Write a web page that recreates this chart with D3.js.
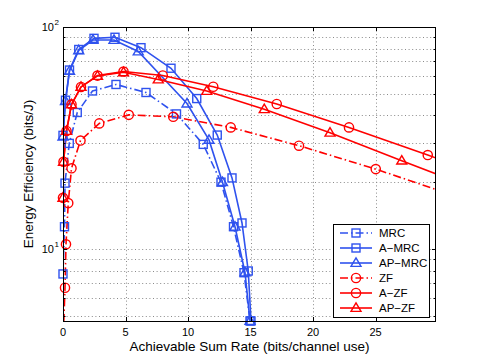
<!DOCTYPE html>
<html><head><meta charset="utf-8">
<script src="https://cdn.jsdelivr.net/npm/d3@7"></script>
<style>
html,body{margin:0;padding:0;background:#fff;}
svg{display:block;font-family:"Liberation Sans",Arial,Helvetica,sans-serif;}
</style></head>
<body>
<svg id="chart" width="482" height="362"></svg>
<script>
// ---- data ----
const mrcX   = [0.0, 0.12, 0.16, 0.5, 1.14, 2.36, 4.24, 6.64, 9.08, 11.22, 12.64, 13.64, 14.48, 14.96];
const mrcY   = [7.72, 12.6, 19.8, 29.9, 41.2, 51.5, 55.1, 50.7, 40.6, 29.6, 20.0, 12.6, 7.82, 4.74];
const aMrcX  = [0.0, 0.2, 0.52, 1.26, 2.48, 4.16, 6.24, 8.64, 10.7, 12.34, 13.52, 14.32, 14.82, 15.04];
const aMrcY  = [32.5, 46.8, 64.0, 79.2, 88.9, 89.9, 80.7, 65.2, 47.6, 32.6, 20.9, 13.1, 7.96, 4.74];
const apMrcX = [0.0, 0.2, 0.52, 1.26, 2.4, 4.08, 6.02, 9.92, 11.68, 12.76, 13.76, 14.56, 14.96];
const apMrcY = [32.1, 46.4, 63.4, 78.5, 87.4, 87.4, 77.6, 45.2, 31.0, 20.0, 12.6, 7.84, 4.74];
const zfX    = [0.02, 0.16, 0.24, 0.42, 0.68, 1.4, 2.9, 5.26, 8.82, 13.42, 18.88, 25.02, 31.8];
const zfY    = [4.0, 6.69, 10.5, 16.1, 23.1, 30.8, 36.8, 40.2, 39.4, 35.3, 29.2, 22.9, 17.0];
const aZfX   = [0.0, 0.04, 0.28, 0.68, 1.44, 2.76, 4.84, 7.98, 12.02, 17.1, 22.88, 29.18, 35.44];
const aZfY   = [17.0, 24.7, 34.0, 44.8, 53.7, 60.4, 63.0, 60.5, 53.8, 45.0, 35.3, 26.5, 19.8];
const apZfX  = [0.0, 0.04, 0.28, 0.68, 1.44, 2.76, 4.84, 7.62, 11.5, 16.1, 21.36, 27.1, 33.1];
const apZfY  = [17.0, 24.7, 34.0, 44.8, 53.7, 60.2, 62.5, 58.0, 51.5, 42.6, 33.4, 25.0, 18.5];

const seriesNames = ["MRC", "A\u2212MRC", "AP\u2212MRC", "ZF", "A\u2212ZF", "AP\u2212ZF"];
const xTicks = [0, 5, 10, 15, 20, 25];
const yMajorTicks = [10, 100];
const xDomain = [0, 29.84];
const yDomain = [4.739, 100];
const xLabel = "Achievable Sum Rate (bits/channel use)";
const yLabel = "Energy Efficiency (bits/J)";

// ---- styles ----
const BLUE = "#2f52ee", RED = "#ff0000";
const DASHDOT = "8,3,1.5,3";
const series = [
  {name: seriesNames[0], xs: mrcX,   ys: mrcY,   color: BLUE, dash: DASHDOT, marker: "square"},
  {name: seriesNames[1], xs: aMrcX,  ys: aMrcY,  color: BLUE, dash: null,    marker: "square"},
  {name: seriesNames[2], xs: apMrcX, ys: apMrcY, color: BLUE, dash: null,    marker: "triangle"},
  {name: seriesNames[3], xs: zfX,    ys: zfY,    color: RED,  dash: DASHDOT, marker: "circle"},
  {name: seriesNames[4], xs: aZfX,   ys: aZfY,   color: RED,  dash: null,    marker: "circle"},
  {name: seriesNames[5], xs: apZfX,  ys: apZfY,  color: RED,  dash: null,    marker: "triangle"}
];

const L = 63, R = 436, T = 27, B = 321;
const svg = d3.select("#chart");
const x = d3.scaleLinear().domain(xDomain).range([L, R]);
const y = d3.scaleLog().domain(yDomain).range([B, T]);

// minor log ticks
const yMinor = [];
for (let d = 1; d <= 10; d *= 10) for (let k = 2; k <= 9; k++) { const v = k * d; if (v >= yDomain[0] && v <= yDomain[1]) yMinor.push(v); }
const yGrid = yMinor.concat(yMajorTicks).filter(v => v > yDomain[0] && v < yDomain[1]);

// grid
const grid = svg.append("g").attr("stroke", "#8a8a8a").attr("stroke-width", 1).attr("stroke-dasharray", "1,2.6");
grid.selectAll("line.gx").data(xTicks.filter(v => v > xDomain[0])).enter().append("line")
  .attr("x1", d => Math.round(x(d)) + 0.5).attr("x2", d => Math.round(x(d)) + 0.5).attr("y1", T).attr("y2", B);
grid.selectAll("line.gy").data(yGrid).enter().append("line")
  .attr("y1", d => Math.round(y(d)) + 0.5).attr("y2", d => Math.round(y(d)) + 0.5).attr("x1", L).attr("x2", R);

// clip
svg.append("clipPath").attr("id", "clip").append("rect").attr("x", L).attr("y", T).attr("width", R - L).attr("height", B - T);

// lines
const line = d3.line().x(d => x(d[0])).y(d => y(d[1]));
const plot = svg.append("g");
series.forEach(s => {
  const pts = s.xs.map((v, i) => [v, s.ys[i]]);
  plot.append("path").attr("d", line(pts)).attr("clip-path", "url(#clip)")
    .attr("fill", "none").attr("stroke", s.color).attr("stroke-width", 1.6)
    .attr("stroke-dasharray", s.dash);
});

function drawMarker(g, type, cx, cy, color) {
  if (type === "square") {
    g.append("rect").attr("x", cx - 4).attr("y", cy - 4).attr("width", 8).attr("height", 8)
      .attr("fill", "none").attr("stroke", color).attr("stroke-width", 1.4);
  } else if (type === "circle") {
    g.append("circle").attr("cx", cx).attr("cy", cy).attr("r", 4.6)
      .attr("fill", "none").attr("stroke", color).attr("stroke-width", 1.4);
  } else {
    const h = 8.5, w = 10;
    g.append("path").attr("d", `M${cx},${cy - h * 0.6}L${cx + w / 2},${cy + h * 0.4}L${cx - w / 2},${cy + h * 0.4}Z`)
      .attr("fill", "none").attr("stroke", color).attr("stroke-width", 1.4);
  }
}
// markers
series.forEach(s => {
  s.xs.forEach((v, i) => {
    const yv = s.ys[i];
    if (v < xDomain[0] - 1e-9 || v > xDomain[1] || yv < yDomain[0] - 1e-9 || yv > yDomain[1]) return;
    drawMarker(plot, s.marker, x(v), y(yv), s.color);
  });
});

// axes box
svg.append("rect").attr("x", L + 0.5).attr("y", T + 0.5).attr("width", R - L - 1).attr("height", B - T)
  .attr("fill", "none").attr("stroke", "#000").attr("stroke-width", 1);

// ticks (inward, all four sides)
const tk = svg.append("g").attr("stroke", "#000").attr("stroke-width", 1);
xTicks.forEach(v => {
  const px = Math.round(x(v)) + 0.5;
  tk.append("line").attr("x1", px).attr("x2", px).attr("y1", B).attr("y2", B - 4);
  tk.append("line").attr("x1", px).attr("x2", px).attr("y1", T).attr("y2", T + 4);
});
yMinor.concat(yMajorTicks).forEach(v => {
  const py = Math.round(y(v)) + 0.5;
  const len = yMajorTicks.includes(v) ? 4 : 2.5;
  tk.append("line").attr("y1", py).attr("y2", py).attr("x1", L).attr("x2", L + len);
  tk.append("line").attr("y1", py).attr("y2", py).attr("x1", R).attr("x2", R - len);
});

// tick labels
const txt = svg.append("g").attr("fill", "#000").attr("font-size", 11);
txt.selectAll("text.xt").data(xTicks).enter().append("text")
  .attr("x", d => x(d)).attr("y", 336).attr("text-anchor", "middle").text(d => d);
yMajorTicks.forEach(v => {
  txt.append("text").attr("x", 54).attr("y", y(v) + 4).attr("text-anchor", "end").text("10");
  txt.append("text").attr("x", 54.5).attr("y", y(v) - 2.5).attr("font-size", 8)
    .text(Math.round(Math.log10(v)));
});

// axis labels
svg.append("text").attr("x", (L + R) / 2).attr("y", 350.5).attr("text-anchor", "middle")
  .attr("font-size", 13.5).text(xLabel);
svg.append("text").attr("transform", `translate(33,${(T + B) / 2}) rotate(-90)`).attr("text-anchor", "middle")
  .attr("font-size", 13.5).text(yLabel);

// legend
const lg = svg.append("g");
lg.append("rect").attr("x", 333.5).attr("y", 224.5).attr("width", 96).attr("height", 93)
  .attr("fill", "#fff").attr("stroke", "#000").attr("stroke-width", 1);
series.forEach((s, i) => {
  const cy = 233 + i * 15;
  lg.append("line").attr("x1", 340).attr("x2", 372).attr("y1", cy).attr("y2", cy)
    .attr("stroke", s.color).attr("stroke-width", 1.6).attr("stroke-dasharray", s.dash);
  drawMarker(lg, s.marker, 356, cy, s.color);
  lg.append("text").attr("x", 379).attr("y", cy + 4).attr("font-size", 11.5).text(s.name);
});
</script>
</body></html>
